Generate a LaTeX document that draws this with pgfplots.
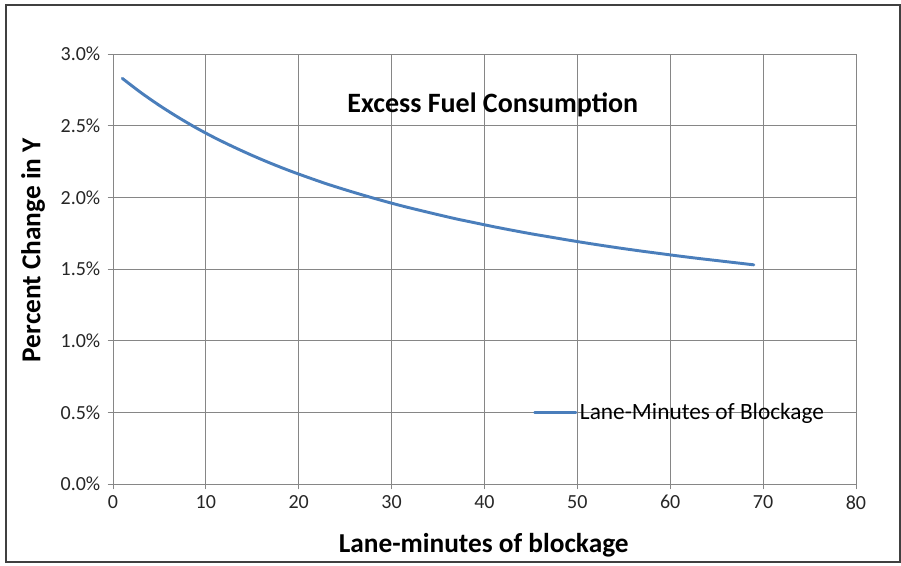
\documentclass[border=0pt]{standalone}
\usepackage{fontspec}
\setmainfont{Carlito}
\usepackage{pgfplots}
\pgfplotsset{compat=1.18}
\definecolor{excelblue}{RGB}{74,126,187}
\definecolor{gridgray}{RGB}{134,134,134}
\begin{document}
\begin{tikzpicture}
% outer frame (1px = 0.75pt, y from bottom)
\path[use as bounding box] (0pt,0pt) rectangle (675.75pt,423.75pt);
\draw[black!75,line width=1.5pt] (4.5pt,2.25pt) rectangle (675pt,420pt);
\begin{axis}[
  at={(84.75pt,60.75pt)}, anchor=south west,
  scale only axis,
  width=557.25pt, height=322.5pt,
  xmin=0, xmax=80, ymin=0, ymax=3,
  xtick={0,10,...,80},
  ytick={0,0.5,...,3},
  grid=major,
  major grid style={gridgray, line width=0.6pt},
  axis line style={gridgray, line width=0.6pt},
  axis x line*=bottom, axis y line*=left,
  tick style={gridgray, line width=0.6pt},
  tick align=outside,
  major tick length=4pt,
  /pgf/number format/assume math mode=true,
  ticklabel style={font=\fontsize{15}{17}\selectfont, text=black!85},
  yticklabel={\pgfmathprintnumber[fixed,fixed zerofill,precision=1]{\tick}\%},
  xticklabel style={yshift=-1pt},
  yticklabel style={xshift=-2pt},
  xlabel={Lane-minutes of blockage},
  ylabel={Percent Change in Y},
  label style={font=\bfseries\fontsize{20.5}{22}\selectfont},
  xlabel style={at={(axis description cs:0.499,-0.1419)}, anchor=center},
  ylabel style={at={(axis description cs:-0.1077,0.544)}, anchor=center},
  legend style={at={(axis cs:45.2,0.5)}, anchor=west, draw=none, fill=none,
    font=\fontsize{17.5}{19}\selectfont, inner sep=0pt},
  legend cell align=left,
  legend image code/.code={\draw[#1] (0pt,0pt) -- (31pt,0pt);},
]
\addplot[excelblue, line width=2.2pt, smooth, line join=round, line cap=round] coordinates {
(1,2.830) (3,2.731) (5,2.641) (7,2.559) (9,2.483) (11,2.414) (13,2.351)
(15,2.292) (17,2.237) (19,2.186) (21,2.139) (23,2.094) (25,2.053)
(27,2.014) (29,1.977) (31,1.942) (33,1.910) (35,1.879) (37,1.849)
(39,1.822) (41,1.795) (43,1.770) (45,1.746) (47,1.724) (49,1.702)
(51,1.681) (53,1.661) (55,1.642) (57,1.624) (59,1.607) (61,1.590)
(63,1.574) (65,1.559) (67,1.544) (69,1.529)
};
\addlegendentry{Lane-Minutes of Blockage}
\node[font=\bfseries\fontsize{21}{23}\selectfont] at (axis cs:40.9,2.645) {Excess Fuel Consumption};
\end{axis}
\end{tikzpicture}
\end{document}
